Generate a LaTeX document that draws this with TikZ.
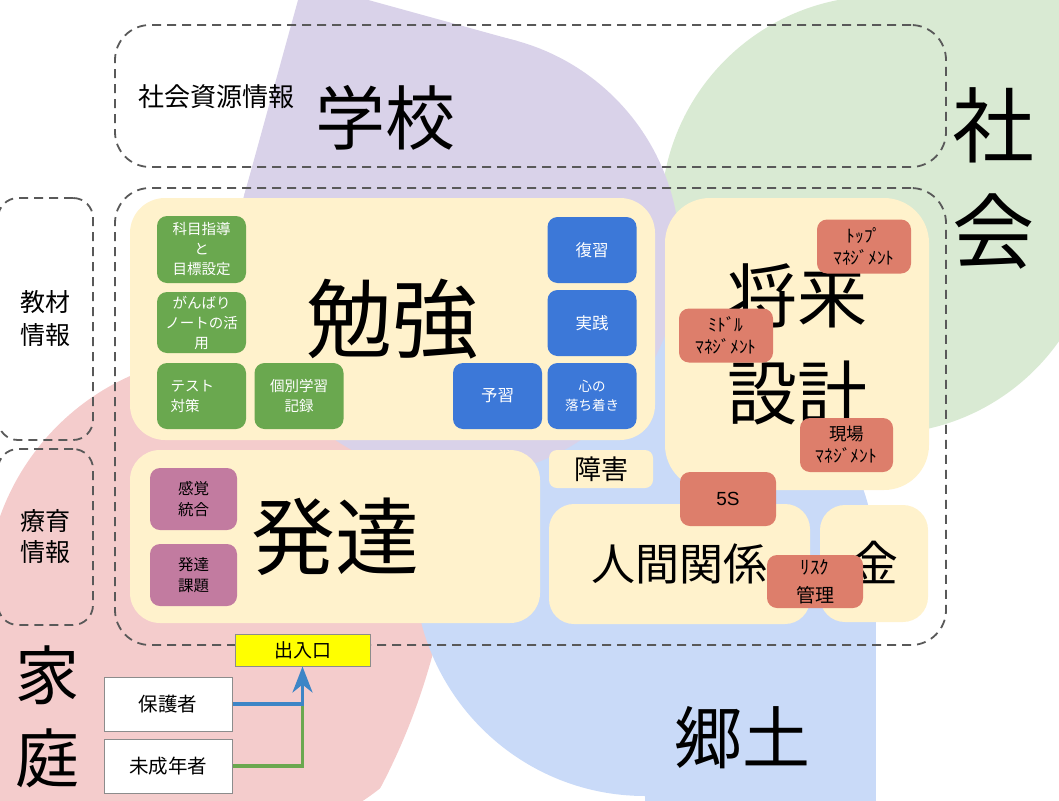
\documentclass[tikz,border=0pt]{standalone}
\usepackage{fontspec}
\setmainfont{Noto Sans CJK JP}
\newfontfamily\arialfont{Liberation Sans}
\usetikzlibrary{arrows.meta,positioning}

\definecolor{schoolbg}{HTML}{D9D2E9}
\definecolor{societybg}{HTML}{D9EAD3}
\definecolor{homelandbg}{HTML}{C9DAF8}
\definecolor{homebg}{HTML}{F4CCCC}
\definecolor{areafill}{HTML}{FFF2CC}
\definecolor{studyfill}{HTML}{6AA84F}
\definecolor{habitfill}{HTML}{3C78D8}
\definecolor{managefill}{HTML}{DD7E6B}
\definecolor{growthfill}{HTML}{C27BA0}
\definecolor{zoneline}{HTML}{595959}
\definecolor{gatefill}{HTML}{FFFF00}
\definecolor{framegray}{HTML}{8C8C8C}
\definecolor{guardianline}{HTML}{3D85C6}

\newcommand{\fsz}[2]{\fontsize{#1pt}{#2pt}\selectfont}

\begin{document}
\begin{tikzpicture}[x=1pt,y=-1pt,
  zone/.style={draw=zoneline, line width=1.8pt, dash pattern=on 9pt off 6pt,
    rounded corners=35pt, inner sep=0pt, align=center},
  area/.style={fill=areafill, rounded corners=#1, inner sep=0pt, align=center},
  area/.default=30pt,
  tag/.style={rounded corners=10pt, inner sep=0pt, align=center,
    minimum width=89pt, minimum height=66pt},
  studytag/.style={tag, fill=studyfill, text=white, font=\fsz{14.5}{20}},
  habittag/.style={tag, fill=habitfill, text=white, font=\fsz{16.5}{20}},
  managetag/.style={tag, fill=managefill, minimum width=94pt, minimum height=54pt,
    font=\fsz{17.5}{22}},
  growthtag/.style={tag, fill=growthfill, minimum width=87pt, minimum height=62pt,
    font=\fsz{15.5}{21}},
  whitebox/.style={draw=framegray, line width=1pt, fill=white, minimum width=128pt,
    minimum height=54pt, inner sep=0pt, font=\fsz{19.5}{24}},
  bigword/.style={inner sep=0pt, align=center}]

  \useasboundingbox (0,0) rectangle (1059,800);

  % background circles
  \begin{scope}
    \clip (0,0) rectangle (1059,800);
    \fill[societybg] (880,215) circle[radius=219pt];
    \fill[societybg] (880,-10) rectangle (1070,215);
    \begin{scope}
      \clip (-20,-20) -- (600,-20) -- (455,540)
        .. controls (440,660) and (405,750) .. (362,820) -- (-20,820) -- cycle;
      \fill[homebg] (229,598) circle[radius=243pt];
      \fill[homebg] (-20,598) rectangle (229,820);
    \end{scope}
    \fill[homelandbg] (645,565) circle[radius=231pt];
    \fill[homelandbg] (645,565) rectangle (876,820);
    \fill[schoolbg] (458,255) circle[radius=222pt];
    \fill[schoolbg] (303,-18) -- (517,41) -- (458,255) -- (244,196) -- cycle;
  \end{scope}

  \node[zone, minimum width=831pt, minimum height=142pt] (resources) at (530.5,96) {};
  \node[zone, minimum width=831pt, minimum height=457pt] (field) at (530.5,416.5) {};
  \node[zone, rounded corners=20pt, minimum width=95pt, minimum height=242pt,
    font=\fsz{25}{33}] (materials) at (45.5,319) {教材\\情報};
  \node[zone, rounded corners=20pt, minimum width=95pt, minimum height=176pt,
    font=\fsz{25}{31}] (therapy) at (45.5,537) {療育\\情報};

  \node[bigword, font=\fsz{26}{30}] (resourcesname) at (216,97) {社会資源情報};
  \node[bigword, font=\fsz{70}{80}] (schoolname) at (385,118) {学校};
  \node[bigword, font=\fsz{82}{106}] (societyname) at (993,178) {社\\会};
  \node[bigword, font=\fsz{64}{83}] (homename) at (47,717) {家\\庭};
  \node[bigword, font=\fsz{68}{80}] (homelandname) at (742,738) {郷土};

  \node[area=35pt, minimum width=525pt, minimum height=242pt, font=\fsz{86}{90}]
    (study) at (392.5,319) {\raisebox{7pt}{勉強}};
  \node[area=45pt, minimum width=264pt, minimum height=292pt, font=\fsz{70}{97}]
    (career) at (797,344) {将来\\設計};
  \node[area, minimum width=410pt, minimum height=173pt, font=\fsz{84}{90}]
    (growth) at (335,536.5) {\raisebox{7pt}{発達}};
  \node[area=8pt, minimum width=104pt, minimum height=38pt, font=\fsz{27}{30}]
    (barrier) at (601,469) {障害};
  \node[area=25pt, minimum width=261pt, minimum height=120pt, font=\fsz{44}{50}]
    (relations) at (679.5,564) {\raisebox{3pt}{人間関係}};
  \node[area=25pt, minimum width=108pt, minimum height=117pt, font=\fsz{48}{50}]
    (money) at (874,563.5) {\raisebox{4pt}{金}};

  \node[studytag, minimum height=67pt] (guidance) at (201.5,249.5) {科目指導\\と\\目標設定};
  \node[studytag, minimum height=61pt] (notebook) at (201.5,322.5) {がんばり\\ノートの活\\用};
  \node[studytag, text width=62pt, align=left] (exams) at (201.5,396) {テスト\\対策};
  \node[studytag] (records) at (299,396) {個別学習\\記録};

  \node[habittag] (review) at (592,250) {復習};
  \node[habittag] (practice) at (592,323) {実践};
  \node[habittag, font=\fsz{13.5}{19}] (calm) at (592,396) {心の\\落ち着き};
  \node[habittag] (preview) at (497.5,396) {予習};

  \node[managetag] (topmgmt) at (864,246.5) {ﾄｯﾌﾟ\\ﾏﾈｼﾞﾒﾝﾄ};
  \node[managetag] (midmgmt) at (726,335.5) {ﾐﾄﾞﾙ\\ﾏﾈｼﾞﾒﾝﾄ};
  \node[managetag, minimum width=93pt] (sitemgmt) at (846.5,445) {現場\\ﾏﾈｼﾞﾒﾝﾄ};
  \node[managetag, minimum width=96pt, font=\arialfont\fsz{19}{22}] (fives) at (728,499) {5S};
  \node[managetag, minimum width=96pt, minimum height=53pt, font=\fsz{19}{28}]
    (risk) at (815,581.5) {ﾘｽｸ\\管理};

  \node[growthtag] (sensory) at (193.5,499) {感覚\\統合};
  \node[growthtag] (devtask) at (193.5,575) {発達\\課題};

  \node[draw=framegray, line width=1pt, fill=gatefill, minimum width=135pt,
    minimum height=32pt, inner sep=0pt, font=\fsz{19}{22}] (gate) at (302.5,650) {出入口};
  \node[whitebox] (guardian) at (168,704) {保護者};
  \node[whitebox] (minor) at (168,766) {未成年者};

  \draw[studyfill, line width=3.5pt] (minor.east) -| (guardian.east -| gate.south);
  \draw[guardianline, line width=3.5pt, -{Stealth[length=26pt,width=20pt,inset=8pt]}]
    (guardian.east) -| (gate.south);
\end{tikzpicture}
\end{document}
